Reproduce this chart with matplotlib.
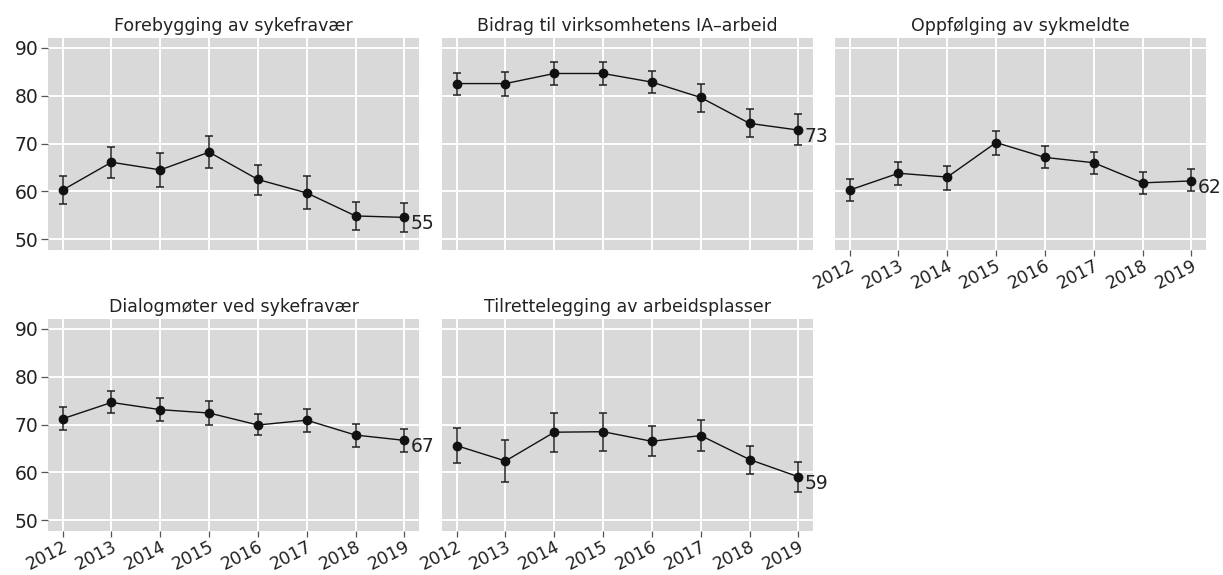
import numpy as np
import matplotlib
matplotlib.use("Agg")
import matplotlib.pyplot as plt

# ---------------------------------------------------------------
# Data
# ---------------------------------------------------------------
years = [2012, 2013, 2014, 2015, 2016, 2017, 2018, 2019]

titles = [
    "Forebygging av sykefravær",
    "Bidrag til virksomhetens IA–arbeid",
    "Oppfølging av sykmeldte",
    "Dialogmøter ved sykefravær",
    "Tilrettelegging av arbeidsplasser",
]

forebygging = [60.3, 66.1, 64.5, 68.2, 62.5, 59.7, 54.9, 54.6]
forebygging_lo = [57.3, 62.9, 61.0, 64.8, 59.3, 56.3, 51.9, 51.5]
forebygging_hi = [63.3, 69.3, 68.0, 71.6, 65.6, 63.3, 57.9, 57.7]

bidrag = [82.5, 82.5, 84.6, 84.6, 82.8, 79.6, 74.2, 72.8]
bidrag_lo = [80.2, 79.9, 82.2, 82.3, 80.5, 76.6, 71.4, 69.6]
bidrag_hi = [84.8, 85.0, 86.9, 86.9, 85.2, 82.5, 77.1, 76.1]

oppfolging = [60.3, 63.8, 63.0, 70.2, 67.1, 66.0, 61.8, 62.2]
oppfolging_lo = [58.0, 61.4, 60.4, 67.7, 64.9, 63.6, 59.4, 60.0]
oppfolging_hi = [62.7, 66.2, 65.4, 72.7, 69.4, 68.3, 64.1, 64.6]

dialogmoter = [71.2, 74.6, 73.1, 72.4, 69.9, 70.9, 67.8, 66.7]
dialogmoter_lo = [68.8, 72.3, 70.8, 70.0, 67.8, 68.5, 65.4, 64.3]
dialogmoter_hi = [73.6, 76.9, 75.5, 74.8, 72.1, 73.2, 70.1, 69.0]

tilrettelegging = [65.6, 62.4, 68.4, 68.5, 66.5, 67.7, 62.7, 59.1]
tilrettelegging_lo = [62.0, 58.1, 64.3, 64.5, 63.4, 64.5, 59.7, 56.0]
tilrettelegging_hi = [69.3, 66.7, 72.5, 72.5, 69.7, 70.9, 65.6, 62.1]

end_labels = ["55", "73", "62", "67", "59"]

series = [
    (forebygging, forebygging_lo, forebygging_hi),
    (bidrag, bidrag_lo, bidrag_hi),
    (oppfolging, oppfolging_lo, oppfolging_hi),
    (dialogmoter, dialogmoter_lo, dialogmoter_hi),
    (tilrettelegging, tilrettelegging_lo, tilrettelegging_hi),
]

# ---------------------------------------------------------------
# Layout
# ---------------------------------------------------------------
plt.rcParams["font.family"] = ["DejaVu Sans"]
fig = plt.figure(figsize=(12.23, 5.75), dpi=100)

W, H = 1223.0, 575.0
col_left = [48, 442, 835]
col_width = 371
row_top = [38, 319]
row_height = 212

# (row, col) of each panel, and whether it shows x / y tick labels
cells = [(0, 0), (0, 1), (0, 2), (1, 0), (1, 1)]
show_x = [False, False, True, True, True]
show_y = [True, False, False, True, False]

bg = "#d9d9d9"
ink = "#111111"
txt = "#222222"

for i, (vals, lo, hi) in enumerate(series):
    r, c = cells[i]
    ax = fig.add_axes([col_left[c] / W,
                       1 - (row_top[r] + row_height) / H,
                       col_width / W,
                       row_height / H])
    ax.set_facecolor(bg)
    for s in ax.spines.values():
        s.set_visible(False)

    vals = np.array(vals)
    yerr = np.vstack([vals - np.array(lo), np.array(hi) - vals])
    ax.errorbar(years, vals, yerr=yerr, color=ink, ecolor="#222222",
                elinewidth=1.1, capsize=2.7, capthick=1.1,
                marker="o", markersize=6, linewidth=1.0, zorder=3)

    ax.text(years[-1] + 0.13, vals[-1] - 1.3, end_labels[i],
            ha="left", va="center", fontsize=13.5, color=txt, zorder=4)

    ax.set_xlim(2011.7, 2019.3)
    ax.set_ylim(47.8, 92.0)
    ax.set_xticks(years)
    ax.set_yticks([50, 60, 70, 80, 90])
    ax.grid(True, color="white", linewidth=1.4)
    ax.set_axisbelow(True)

    ax.tick_params(axis="y", color="#555555", length=5, width=0.9,
                   labelsize=13.5, labelcolor=txt, pad=2)
    ax.tick_params(axis="x", color="#555555", length=4, width=0.9,
                   labelsize=12.5, labelcolor=txt, pad=1)
    if show_x[i]:
        ax.set_xticklabels([str(y) for y in years], rotation=27,
                           ha="right", rotation_mode="anchor")
    else:
        ax.tick_params(axis="x", length=0, labelbottom=False)
    if not show_y[i]:
        ax.tick_params(axis="y", length=0, labelleft=False)

    ax.set_title(titles[i], fontsize=12.5, color=txt, pad=5)

fig.savefig("out.png", dpi=100)
